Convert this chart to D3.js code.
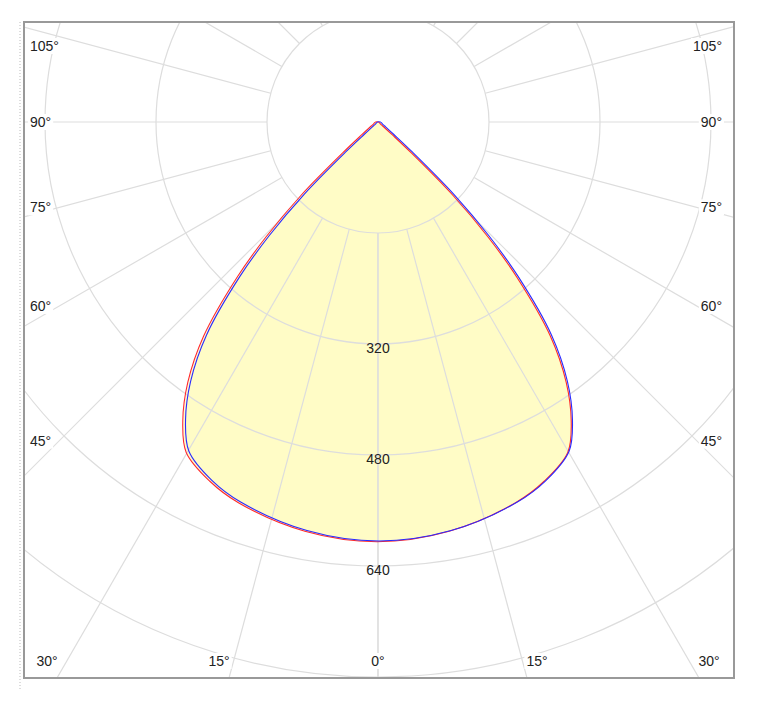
<!DOCTYPE html>
<html>
<head>
<meta charset="utf-8">
<script src="https://cdn.jsdelivr.net/npm/d3@7"></script>
<style>
  body { margin: 0; background: #fff; }
  text { font-family: Arial, "Liberation Sans", sans-serif; font-size: 14px; fill: #222; }
</style>
</head>
<body>
<svg id="chart" width="759" height="708"></svg>
<script>
// angle in degrees from nadir, intensity in cd
const angles = [0, 10, 20, 25, 30, 33, 36, 39, 42, 44, 46, 48, 50, 55, 60, 70, 80, 90];
const seriesRed = [605, 599, 584, 571, 550, 514, 464, 397, 302, 230, 152, 66, 29, 10, 6, 4, 3, 2];
const seriesBlue = [604, 598, 583, 570, 548, 512, 462, 395, 300, 228, 150, 65, 28, 10, 6, 4, 3, 2];
const ringValues = [160, 320, 480, 640, 800, 960, 1120];
const ringLabels = [320, 480, 640];
const rayAngles = d3.range(0, 181, 15);
const sideLabels = [105, 90, 75, 60, 45];
const bottomLabels = [30, 15, 0, 15, 30];

const svg = d3.select('#chart');
const frame = { left: 24, top: 22, right: 734, bottom: 678 };
const cx = 378, cy = 122;
const r = d3.scaleLinear().domain([0, 160]).range([0, 111]);

svg.append('line').attr('x1', 20).attr('x2', 20).attr('y1', 22).attr('y2', 690)
  .attr('stroke', '#bbb').attr('stroke-dasharray', '1,2');

svg.append('clipPath').attr('id', 'clip').append('rect')
  .attr('x', frame.left).attr('y', frame.top)
  .attr('width', frame.right - frame.left).attr('height', frame.bottom - frame.top);

const plot = svg.append('g').attr('clip-path', 'url(#clip)');
const pt = (deg, v) => {
  const a = deg * Math.PI / 180;
  return [cx + r(v) * Math.sin(a), cy + r(v) * Math.cos(a)];
};

const fullCurve = (left, right) => {
  const pts = [];
  for (let i = angles.length - 1; i >= 0; i--) pts.push(pt(-angles[i], left[i]));
  for (let i = 1; i < angles.length; i++) pts.push(pt(angles[i], right[i]));
  return pts;
};
const line = d3.line().curve(d3.curveCatmullRomClosed.alpha(0.5));

plot.append('path').attr('d', line(fullCurve(seriesRed, seriesBlue)))
  .attr('fill', '#fffcc6').attr('stroke', 'none');

// grid
plot.selectAll('circle.ring').data(ringValues).join('circle')
  .attr('cx', cx).attr('cy', cy).attr('r', d => r(d))
  .attr('fill', 'none').attr('stroke', '#ddd').attr('stroke-width', 1.2);

rayAngles.forEach(a => {
  [a, -a].forEach(s => {
    const p0 = pt(s, 160), p1 = pt(s, 1400);
    plot.append('line').attr('x1', p0[0]).attr('y1', p0[1]).attr('x2', p1[0]).attr('y2', p1[1])
      .attr('stroke', '#ddd').attr('stroke-width', 1.2);
  });
});

// curves
plot.append('path').attr('d', line(fullCurve(seriesRed, seriesRed)))
  .attr('fill', 'none').attr('stroke', '#ff2a2a').attr('stroke-width', 1.1)
  .attr('transform', 'translate(-1,0)');
plot.append('path').attr('d', line(fullCurve(seriesBlue, seriesBlue)))
  .attr('fill', 'none').attr('stroke', '#2a2aff').attr('stroke-width', 1.1)
  .attr('transform', 'translate(1,0)');

// ring labels
ringLabels.forEach(v => {
  svg.append('text').attr('x', cx).attr('y', cy + r(v) + 9).attr('text-anchor', 'middle').text(v);
});

// side labels
const halfW = cx - frame.left;
sideLabels.forEach(a => {
  const t = Math.tan((a - 90) * Math.PI / 180);
  const yint = cy - halfW * t;
  let y = yint - (yint - cy) * 0.1;
  if (a > 90) y = 46;
  [['start', frame.left + 6], ['end', frame.right - 12]].forEach(([anchor, x]) => {
    const tx = svg.append('text').attr('x', x).attr('y', y + 5).attr('text-anchor', anchor).text(a + '°');
    const b = tx.node().getBBox();
    svg.insert('rect', () => tx.node()).attr('x', b.x - 2).attr('y', b.y).attr('width', b.width + 4).attr('height', b.height).attr('fill', '#fff');
  });
});

// bottom labels
bottomLabels.forEach((a, i) => {
  const sign = i < 2 ? -1 : (i === 2 ? 0 : 1);
  const xint = cx + sign * (frame.bottom - cy) * Math.tan(a * Math.PI / 180);
  const x = xint + sign * 10;
  const tx = svg.append('text').attr('x', x).attr('y', 666).attr('text-anchor', 'middle').text(a + '°');
  const b = tx.node().getBBox();
  svg.insert('rect', () => tx.node()).attr('x', b.x - 2).attr('y', b.y).attr('width', b.width + 4).attr('height', b.height).attr('fill', '#fff');
});

svg.append('rect').attr('x', frame.left).attr('y', frame.top)
  .attr('width', frame.right - frame.left).attr('height', frame.bottom - frame.top)
  .attr('fill', 'none').attr('stroke', '#999').attr('stroke-width', 2);
</script>
</body>
</html>
